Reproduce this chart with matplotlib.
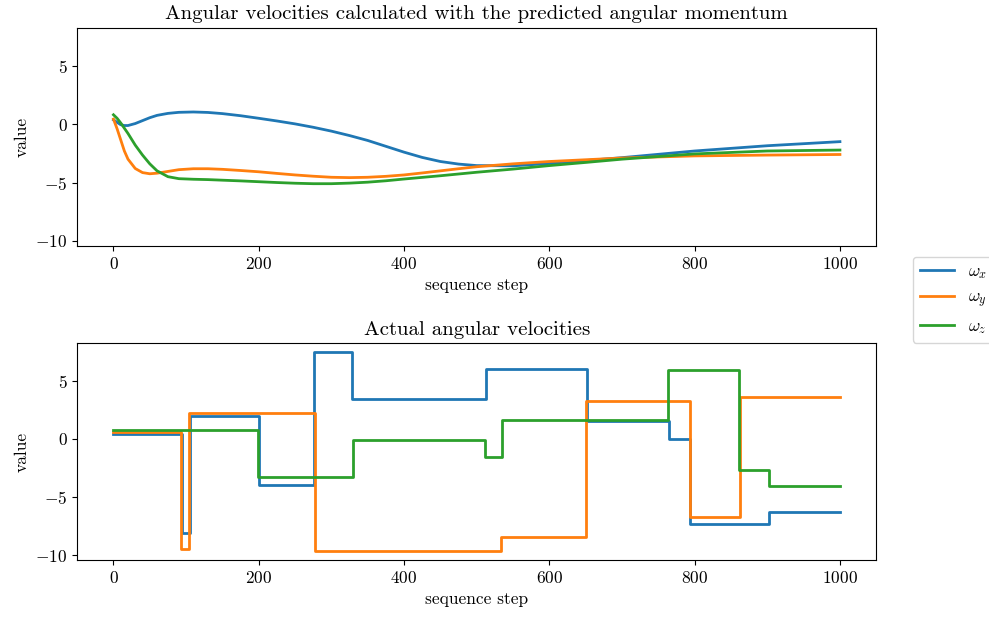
import numpy as np
import matplotlib
matplotlib.use("Agg")
import matplotlib.pyplot as plt

plt.rcParams["font.family"] = "serif"
plt.rcParams["font.serif"] = ["cmr10"]
plt.rcParams["mathtext.fontset"] = "cm"
plt.rcParams["axes.formatter.use_mathtext"] = True
plt.rcParams["font.size"] = 12.5

# predicted (smooth) angular velocities
pred_step = [0, 5, 10, 15, 20, 30, 40, 50, 60, 75, 90, 110, 130, 150, 175, 200, 225,
             250, 275, 300, 325, 350, 375, 400, 425, 450, 475, 500, 550, 600, 650, 700, 800, 900, 1000]
pred_wx = [0.37, 0.15, -0.05, -0.12, -0.12, 0.05, 0.3, 0.55, 0.75, 0.92, 1.01, 1.04, 1.0, 0.9, 0.72, 0.5, 0.27,
           0.02, -0.27, -0.6, -0.98, -1.4, -1.9, -2.4, -2.85, -3.2, -3.42, -3.55, -3.57, -3.37, -3.12, -2.87, -2.3, -1.85, -1.5]
pred_wy = [0.43, -0.4, -1.35, -2.3, -3.0, -3.8, -4.15, -4.25, -4.2, -4.05, -3.9, -3.82, -3.82, -3.87, -3.97, -4.08, -4.22,
           -4.35, -4.46, -4.55, -4.58, -4.55, -4.47, -4.35, -4.18, -4.0, -3.82, -3.65, -3.4, -3.2, -3.05, -2.9, -2.72, -2.65, -2.6]
pred_wz = [0.8, 0.5, 0.1, -0.35, -0.8, -1.8, -2.65, -3.4, -4.0, -4.5, -4.67, -4.72, -4.75, -4.8, -4.86, -4.93, -5.0,
           -5.06, -5.1, -5.1, -5.05, -4.97, -4.85, -4.7, -4.56, -4.42, -4.27, -4.12, -3.85, -3.55, -3.28, -3.0, -2.55, -2.3, -2.22]

# actual angular velocities: piecewise constant (change step, level)
act_wx_step = [0, 94, 105, 200, 276, 329, 513, 652, 765, 794, 903, 1000]
act_wx = [0.4, -8.1, 2.0, -4.0, 7.45, 3.4, 6.05, 1.5, -0.05, -7.3, -6.3, -6.3]
act_wy_step = [0, 93, 104, 277, 534, 651, 794, 862, 1000]
act_wy = [0.6, -9.5, 2.2, -9.62, -8.45, 3.3, -6.75, 3.6, 3.6]
act_wz_step = [0, 199, 330, 512, 535, 764, 861, 903, 1000]
act_wz = [0.8, -3.3, -0.12, -1.6, 1.65, 5.9, -2.7, -4.05, -4.05]

labels = [r"$\omega_x$", r"$\omega_y$", r"$\omega_z$"]

fig = plt.figure(figsize=(9.89, 6.17), dpi=100)
ax1 = fig.add_axes([0.078, 0.601, 0.808, 0.354])
ax2 = fig.add_axes([0.078, 0.092, 0.808, 0.352], sharey=ax1)

lines = []
for y, lab in zip([pred_wx, pred_wy, pred_wz], labels):
    l, = ax1.plot(pred_step, y, linewidth=2, label=lab)
    lines.append(l)
ax1.set_title("Angular velocities calculated with the predicted angular momentum")
ax1.set_xlabel("sequence step")
ax1.set_ylabel("value")

for xs, y in zip([act_wx_step, act_wy_step, act_wz_step], [act_wx, act_wy, act_wz]):
    ax2.step(xs, y, where="post", linewidth=2)
ax2.set_title("Actual angular velocities")
ax2.set_xlabel("sequence step")
ax2.set_ylabel("value")

for ax in (ax1, ax2):
    ax.set_xlim(-50, 1050)
    ax.set_xticks([0, 200, 400, 600, 800, 1000])
ax1.set_ylim(-10.45, 8.25)
ax1.set_yticks([-10, -5, 0, 5])

fig.legend(handles=lines, labels=labels, loc="center left",
           bbox_to_anchor=(0.914, 0.514))

fig.savefig("out.png", dpi=100)
